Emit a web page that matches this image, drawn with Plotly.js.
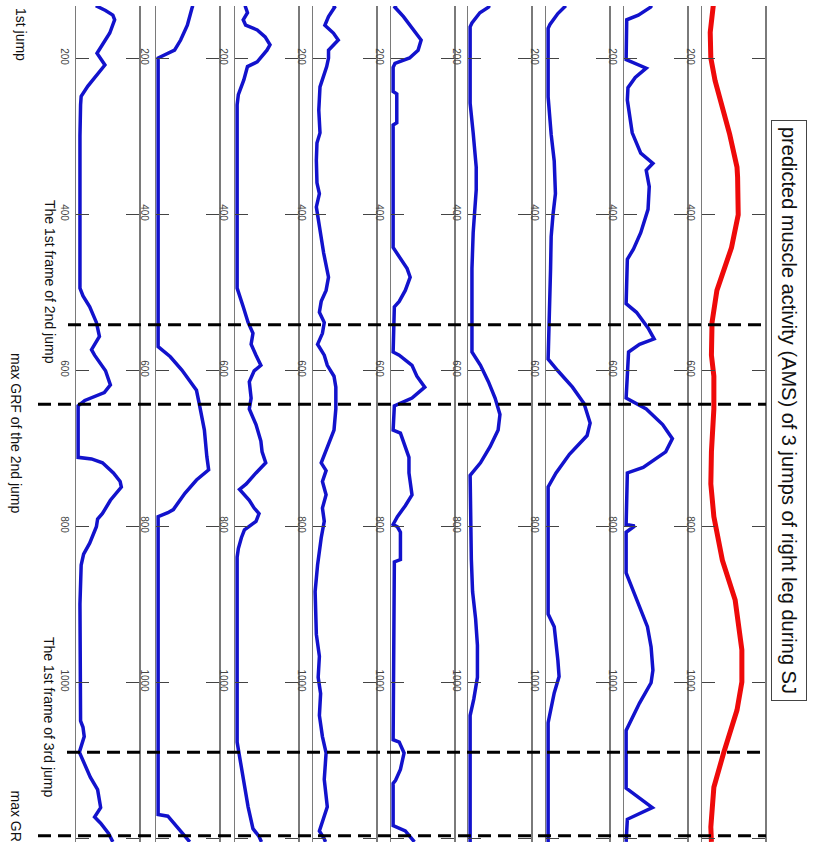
<!DOCTYPE html>
<html>
<head>
<meta charset="utf-8">
<script src="https://cdn.plot.ly/plotly-3.0.1.min.js"></script>
<style>html,body{margin:0;padding:0;background:#fff;}#chart{width:818px;height:842px;}</style>
</head>
<body>
<div id="chart"></div>
<script>
// ---- data (frame numbers and relative activity, panels left -> right) ----
const titleText = "predicted muscle activity (AMS) of 3 jumps of right leg during SJ";
const tickFrames = [200, 400, 600, 800, 1000, 1200];
const tickLabels = ["200", "400", "600", "800", "1000", "1200"];
const eventFrames = [542, 644, 1090, 1197];
const eventLabels = ["1st jump", "The 1st frame of 2nd jump", "max GRF of the 2nd jump", "The 1st frame of 3rd jump", "max GRF of the 3rd jump"];

const m1Frames = [133,139,145,151,168,190,194,209,224,236,249,260,300,400,495,505,519,539,557,574,581,601,619,629,639,646,712,714,719,732,743,750,767,784,791,801,822,836,850,900,1050,1058,1070,1090,1122,1138,1161,1173,1181,1194,1205];
const m1Values = [0.29,0.45,0.57,0.6,0.52,0.33,0.31,0.44,0.29,0.16,0.05,0.04,0.03,0.03,0.03,0.08,0.19,0.30,0.35,0.22,0.27,0.45,0.53,0.43,0.11,0.0,0.0,0.22,0.40,0.58,0.69,0.71,0.53,0.40,0.32,0.30,0.19,0.09,0.05,0.03,0.04,0.08,0.10,0.02,0.20,0.32,0.37,0.27,0.37,0.50,0.57];

const m2Frames = [133,135,158,177,190,196,200,570,583,600,626,645,677,711,728,741,758,779,783,788,1170,1172,1186,1205];
const m2Values = [0.57,0.56,0.48,0.37,0.27,0.10,0,0,0.2,0.39,0.63,0.68,0.76,0.80,0.83,0.63,0.44,0.25,0.16,0,0,0.16,0.32,0.52];

const m3Frames = [133,135,142,151,158,164,173,183,190,205,211,228,247,260,495,519,539,553,567,581,594,601,615,636,650,670,691,705,719,732,746,753,767,777,784,794,805,815,829,840,1077,1091,1125,1160,1188,1198,1205];
const m3Values = [0.13,0.14,0.17,0.10,0.14,0.33,0.46,0.54,0.49,0.33,0.17,0.11,0.02,0,0,0.10,0.18,0.26,0.23,0.31,0.39,0.28,0.20,0.23,0.20,0.31,0.39,0.41,0.47,0.31,0.15,0.04,0.20,0.28,0.36,0.31,0.12,0.07,0.02,0,0,0.03,0.10,0.18,0.26,0.36,0.40];

const m4Frames = [133,135,147,158,168,177,190,200,211,224,237,267,296,309,331,360,374,391,424,450,481,498,512,526,539,553,567,581,594,608,622,650,677,698,719,729,743,760,777,794,815,850,884,939,967,994,1015,1043,1070,1091,1125,1160,1181,1191,1201,1205];
const m4Values = [0.30,0.32,0.22,0.16,0.30,0.38,0.22,0.22,0.19,0.14,0.08,0.06,0.08,0.03,0.02,0.03,0.07,0.02,0.08,0.14,0.22,0.18,0.10,0.07,0.15,0.12,0.04,0.15,0.20,0.31,0.34,0.34,0.31,0.20,0.10,0.18,0.12,0.18,0.12,0.15,0.10,0.04,0,0.02,0.07,0.05,0.09,0.07,0.12,0.18,0.15,0.20,0.12,0.07,0.15,0.17];

const m5Frames = [133,135,147,164,177,190,200,207,212,243,246,283,286,443,457,470,481,498,512,519,577,581,594,608,622,636,646,677,681,698,712,732,760,774,788,798,801,808,843,846,1074,1077,1091,1112,1126,1130,1184,1191,1201,1205];
const m5Values = [0.05,0.03,0.17,0.33,0.46,0.41,0.27,0.03,0,0,0.06,0.06,0,0,0.12,0.23,0.28,0.20,0.10,0.02,0,0.10,0.31,0.39,0.52,0.31,0.02,0,0.12,0.20,0.26,0.26,0.31,0.20,0.07,0,0.07,0.12,0.12,0.02,0,0.10,0.18,0.12,0.04,0,0,0.20,0.31,0.35];

const m6Frames = [133,135,142,155,160,258,296,340,369,400,424,470,574,577,594,615,636,657,677,698,719,732,735,843,884,919,953,994,1022,1043,1205];
const m6Values = [0.32,0.30,0.16,0.03,0,0,0.05,0.10,0.10,0.07,0.05,0.03,0.02,0.03,0.17,0.30,0.41,0.49,0.46,0.33,0.17,0.02,0,0.02,0.04,0.09,0.12,0.12,0.06,0,0];

const m7Frames = [133,143,157,162,250,298,332,374,401,429,470,512,539,586,601,622,643,668,684,708,732,750,913,929,972,993,1014,1045,1052,1205];
const m7Values = [0.29,0.16,0.03,0,0,0.05,0.10,0.12,0.08,0.05,0.04,0.03,0.01,0,0.16,0.40,0.59,0.69,0.64,0.35,0.13,0,0,0.10,0.16,0.18,0.10,0.03,0,0];

const m8Frames = [133,135,145,151,202,213,225,238,254,296,322,335,344,365,394,424,445,458,515,526,546,560,567,577,636,650,670,688,705,725,732,798,800,808,860,920,929,955,985,1001,1027,1062,1136,1161,1176,1205];
const m8Values = [0.42,0.40,0.20,0.01,0,0.33,0.15,0.03,0.02,0.10,0.24,0.44,0.33,0.38,0.36,0.24,0.12,0.02,0,0.17,0.36,0.46,0.22,0.04,0,0.33,0.60,0.76,0.65,0.28,0.02,0,0.14,0,0,0.30,0.35,0.41,0.44,0.41,0.22,0,0,0.43,0.02,0];

const m9Frames = [133,167,200,229,298,340,353,401,443,498,539,581,608,650,705,746,788,844,895,959,1000,1036,1091,1135,1186,1205];
const m9Values = [0.15,0.10,0.11,0.18,0.42,0.54,0.55,0.56,0.45,0.21,0.13,0.12,0.16,0.16,0.12,0.11,0.16,0.30,0.51,0.62,0.62,0.54,0.32,0.16,0.11,0.12];

// ---- layout ----
const W = 818, H = 842;
const frames = [m1Frames,m2Frames,m3Frames,m4Frames,m5Frames,m6Frames,m7Frames,m8Frames,m9Frames];
const values = [m1Values,m2Values,m3Values,m4Values,m5Values,m6Values,m7Values,m8Values,m9Values];
const colors = ['#1212cc','#1212cc','#1212cc','#1212cc','#1212cc','#1212cc','#1212cc','#1212cc','#ee0a0a'];
const widths = [3.5,3.5,3.5,3.5,3.5,3.5,3.5,3.5,5];
const baselines = [76,156,235,313,391,468,546,624,702];
const panelW = 63;
const pxPerFrame = 0.78;
const topPx = 6;
const fTop = 200 - (58 - topPx) / pxPerFrame;
const fBot = fTop + (H - topPx) / pxPerFrame;
const dashStartPx = [68, 38, 67, 38];

const data = [];
const layout = {
  width: W, height: H,
  margin: {l:0, r:0, t:0, b:0, pad:0},
  paper_bgcolor: '#fff', plot_bgcolor: 'rgba(0,0,0,0)',
  showlegend: false,
  font: {family: 'Liberation Sans, Arial, sans-serif', color: '#222'},
  shapes: [], annotations: []
};

for (let i = 0; i < 9; i++) {
  const s = i === 0 ? '' : String(i + 1);
  data.push({
    type: 'scatter', mode: 'lines',
    x: values[i], y: frames[i],
    xaxis: 'x' + s, yaxis: 'y' + s,
    line: {color: colors[i], width: widths[i]},
    hoverinfo: 'skip'
  });
  layout['xaxis' + s] = {
    domain: [baselines[i] / W, (baselines[i] + panelW) / W],
    range: [-0.035, 1.0],
    anchor: 'y' + s,
    showline: false, showgrid: false, zeroline: false,
    showticklabels: false, ticks: '', fixedrange: true
  };
  const ya = {
    domain: [0, 1 - topPx / H],
    range: [fBot, fTop],
    anchor: 'x' + s,
    showline: true, linecolor: '#7a7a7a', linewidth: 1.5,
    mirror: 'ticks',
    ticks: 'inside', ticklen: 13, tickwidth: 1, tickcolor: '#444',
    tickmode: 'array', tickvals: tickFrames, ticktext: tickLabels,
    tickangle: 90,
    tickfont: {size: 10, color: '#444', family: 'Liberation Sans, Arial, sans-serif'},
    ticklabelstandoff: 2,
    showgrid: false, zeroline: false, fixedrange: true
  };
  if (i > 0) ya.matches = 'y';
  layout['yaxis' + s] = ya;
}

eventFrames.forEach((f, k) => {
  layout.shapes.push({
    type: 'line', xref: 'paper', yref: 'y',
    x0: dashStartPx[k] / W, x1: 766 / W, y0: f, y1: f,
    line: {color: '#000', width: 3, dash: '13px,7px'},
    layer: 'above'
  });
});

function px(x, y) { return {x: x / W, y: 1 - y / H}; }

const titlePos = px(789, 410);
layout.annotations.push({
  xref: 'paper', yref: 'paper', x: titlePos.x, y: titlePos.y,
  text: titleText, showarrow: false, textangle: 90,
  font: {size: 20, color: '#111', family: 'Liberation Sans, Arial, sans-serif'},
  bordercolor: '#444', borderwidth: 1, borderpad: 6, bgcolor: '#fff',
  xanchor: 'center', yanchor: 'middle'
});

const evPos = [[21,34,'middle'],[50,282,'middle'],[16,433,'middle'],[49,717,'middle'],[16,788,'top']];
eventLabels.forEach((t, k) => {
  const p = px(evPos[k][0], evPos[k][1]);
  layout.annotations.push({
    xref: 'paper', yref: 'paper', x: p.x, y: p.y,
    text: t, showarrow: false, textangle: 90,
    font: {size: 14, color: '#111', family: 'Liberation Sans, Arial, sans-serif'},
    xanchor: 'center', yanchor: evPos[k][2]
  });
});

Plotly.newPlot('chart', data, layout, {staticPlot: true, displayModeBar: false});
</script>
</body>
</html>
